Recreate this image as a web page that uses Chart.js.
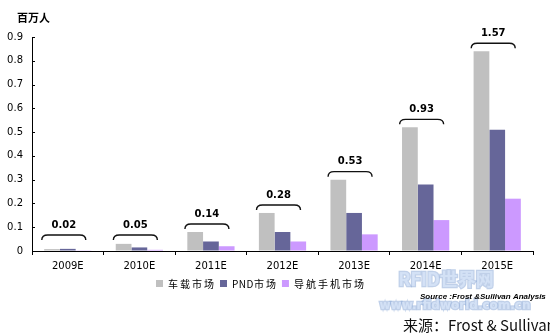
<!DOCTYPE html>
<html>
<head>
<meta charset="utf-8">
<script src="https://cdn.jsdelivr.net/npm/chart.js@4/dist/chart.umd.min.js"></script>
<style>
  html, body { margin: 0; padding: 0; background: #fff; }
  #wrap { position: relative; width: 550px; height: 336px; }
</style>
</head>
<body>
<div id="wrap"><canvas id="barChart" width="550" height="336"></canvas></div>
<script>
const years = ['2009E', '2010E', '2011E', '2012E', '2013E', '2014E', '2015E'];
const seriesNames = ['车载市场', 'PND市场', '导航手机市场'];
const carNav = [0.008, 0.03, 0.08, 0.16, 0.30, 0.52, 0.84];
const pndNav = [0.009, 0.015, 0.04, 0.08, 0.16, 0.28, 0.51];
const phoneNav = [0.003, 0.005, 0.02, 0.04, 0.07, 0.13, 0.22];
const yTicks = [0, 0.1, 0.2, 0.3, 0.4, 0.5, 0.6, 0.7, 0.8, 0.9];
const colors = ['#c0c0c0', '#666699', '#cc99ff'];

const FONT = '"DejaVu Sans", Verdana, sans-serif';
const CJK = '"Noto Sans CJK SC", sans-serif';

// writes a label char by char, spacing out only the CJK glyphs
function spacedText(ctx, str, x, y) {
  for (const ch of str) {
    ctx.fillText(ch, x, y);
    x += ctx.measureText(ch).width + (ch.charCodeAt(0) > 255 ? 2 : 0.5);
  }
  return x;
}

// brackets with yearly totals above each group, plus axis extras and legend
const extras = {
  id: 'extras',
  afterDraw(chart) {
    const ctx = chart.ctx;
    const x = chart.scales.x, y = chart.scales.y;
    const zero = y.getPixelForValue(0);
    ctx.save();

    // little ticks on the right of the value axis
    ctx.strokeStyle = '#000';
    ctx.lineWidth = 1;
    yTicks.forEach(v => {
      const py = Math.round(y.getPixelForValue(v)) + 0.5;
      ctx.beginPath();
      ctx.moveTo(x.left, py);
      ctx.lineTo(x.left + 3, py);
      ctx.stroke();
    });

    // curly brackets
    const meta = chart.getDatasetMeta(0);
    years.forEach((yr, i) => {
      const total = carNav[i] + pndNav[i] + phoneNav[i];
      const cx = x.getPixelForValue(i) - 4;
      const top = meta.data[i].y;
      const by = Math.min(top - 8, zero - 16);
      const half = 22;
      ctx.strokeStyle = '#111';
      ctx.lineWidth = 1.4;
      ctx.beginPath();
      ctx.moveTo(cx - half, by + 5);
      ctx.quadraticCurveTo(cx - half, by, cx - half + 6, by);
      ctx.lineTo(cx + half - 6, by);
      ctx.quadraticCurveTo(cx + half, by, cx + half, by + 5);
      ctx.stroke();
      ctx.fillStyle = '#000';
      ctx.font = 'bold 10px ' + FONT;
      ctx.textAlign = 'center';
      ctx.textBaseline = 'middle';
      ctx.fillText(total.toFixed(2), cx, by - 10);
    });

    // unit title
    ctx.fillStyle = '#000';
    ctx.font = 'bold 11px ' + CJK;
    ctx.textAlign = 'left';
    ctx.textBaseline = 'middle';
    ctx.fillText('百万人', 17, 18);

    // legend
    let lx = 156;
    const ly = 284;
    ctx.font = '10px ' + CJK;
    seriesNames.forEach((name, i) => {
      ctx.fillStyle = colors[i];
      ctx.fillRect(lx, ly - 4, 7, 7);
      ctx.fillStyle = '#000';
      lx = spacedText(ctx, name, lx + 12, ly) + 4;
    });

    // watermark
    ctx.textAlign = 'center';
    ctx.font = 'bold 18px ' + CJK;
    ctx.lineWidth = 2.5;
    ctx.strokeStyle = 'rgba(140,170,215,0.55)';
    ctx.fillStyle = 'rgba(215,228,248,0.85)';
    ctx.strokeText('RFID世界网', 446, 279);
    ctx.fillText('RFID世界网', 446, 279);
    ctx.font = 'bold 12px ' + FONT;
    ctx.strokeText('www.rfidworld.com.cn', 455, 306);
    ctx.fillText('www.rfidworld.com.cn', 455, 306);

    // source lines
    ctx.fillStyle = '#000';
    ctx.textAlign = 'left';
    ctx.font = 'italic bold 8px "Liberation Sans", Arial, sans-serif';
    ctx.fillText('Source :Frost &Sullivan Analysis', 420, 297);
    ctx.font = '15px ' + CJK;
    ctx.fillStyle = '#111';
    ctx.fillText('来源：Frost & Sullivan', 403, 325);

    ctx.restore();
  }
};

new Chart(document.getElementById('barChart'), {
  type: 'bar',
  data: {
    labels: years,
    datasets: [carNav, pndNav, phoneNav].map((d, i) => ({
      label: seriesNames[i],
      data: d,
      backgroundColor: colors[i],
      borderWidth: 0,
      categoryPercentage: 0.66,
      barPercentage: 1.0
    }))
  },
  options: {
    responsive: false,
    animation: false,
    layout: { padding: { left: 0, top: 37, right: 17, bottom: 63 } },
    plugins: {
      legend: { display: false },
      tooltip: { enabled: false }
    },
    scales: {
      x: {
        grid: { display: true, offset: true, drawOnChartArea: false, drawTicks: true, tickLength: 4, color: '#000' },
        border: { display: true, color: '#000', width: 1 },
        ticks: { color: '#000', font: { family: FONT, size: 10 }, padding: 5, maxRotation: 0 },
        afterFit: s => { s.height = 22; }
      },
      y: {
        min: 0,
        max: 0.9,
        afterBuildTicks: s => { s.ticks = yTicks.map(v => ({ value: v })); },
        grid: { display: true, drawOnChartArea: false, drawTicks: false },
        border: { display: true, color: '#000', width: 1 },
        ticks: {
          color: '#000',
          font: { family: FONT, size: 10 },
          padding: 9,
          callback: v => v === 0 ? '0' : String(Math.round(v * 10) / 10)
        },
        afterFit: s => { s.width = 32; }
      }
    }
  },
  plugins: [extras]
});
</script>
</body>
</html>
